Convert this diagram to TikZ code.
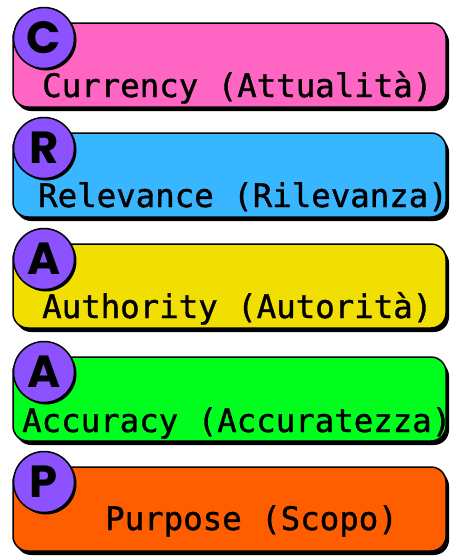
\documentclass[tikz,border=0pt]{standalone}
\usepackage{fontspec}
\newfontfamily\monof{DejaVu Sans Mono}[FakeBold=1.2]
\newfontfamily\letf{Poppins}
\definecolor{cpink}{HTML}{FF66C4}
\definecolor{cblue}{HTML}{38B6FF}
\definecolor{cyellow}{HTML}{F0DF00}
\definecolor{cgreen}{HTML}{00FF1E}
\definecolor{corange}{HTML}{FF5E00}
\definecolor{cpurple}{HTML}{8C52FF}
\tikzset{
  cardbox/.style={draw=black, line width=1.5pt, rounded corners=15pt},
  cardshadow/.style={fill=black, rounded corners=15pt},
  badge/.style={circle, draw=black, line width=1.5pt, fill=cpurple, minimum size=61pt, inner sep=0pt, font=\letf\bfseries\fontsize{45}{45}\selectfont},
  badgeshadow/.style={circle, fill=black, minimum size=61pt, inner sep=0pt},
  cardtext/.style={anchor=base west, inner sep=0pt, font=\monof\fontsize{32.4}{34}\selectfont}
}
\begin{document}
\begin{tikzpicture}[x=1pt,y=-1pt]
\useasboundingbox (0,0) rectangle (450,557);
\foreach \tp/\col/\ltr/\tx/\bo/\txt/\nm in {
  23/cpink/C/42/74/{Currency (Attualità)}/cur,
  133/cblue/R/38/74/{Relevance (Rilevanza)}/rel,
  244/cyellow/A/42/74/{Authority (Autorità)}/aut,
  357/cgreen/A/22/75/{Accuracy (Accuratezza)}/acc,
  467/corange/P/105/63/{Purpose (Scopo)}/pur}{
  \fill[cardshadow] (16,\tp+4) rectangle (449,\tp+88);
  \filldraw[cardbox, fill=\col] (13,\tp) rectangle (446,\tp+84);
  \node[badgeshadow] (s\nm) at (46,\tp+17) {};
  \node[badge] (b\nm) at (44,\tp+15) {\ltr};
  \node[cardtext] (t\nm) at (\tx,\tp+\bo) {\txt};
}
\end{tikzpicture}
\end{document}
